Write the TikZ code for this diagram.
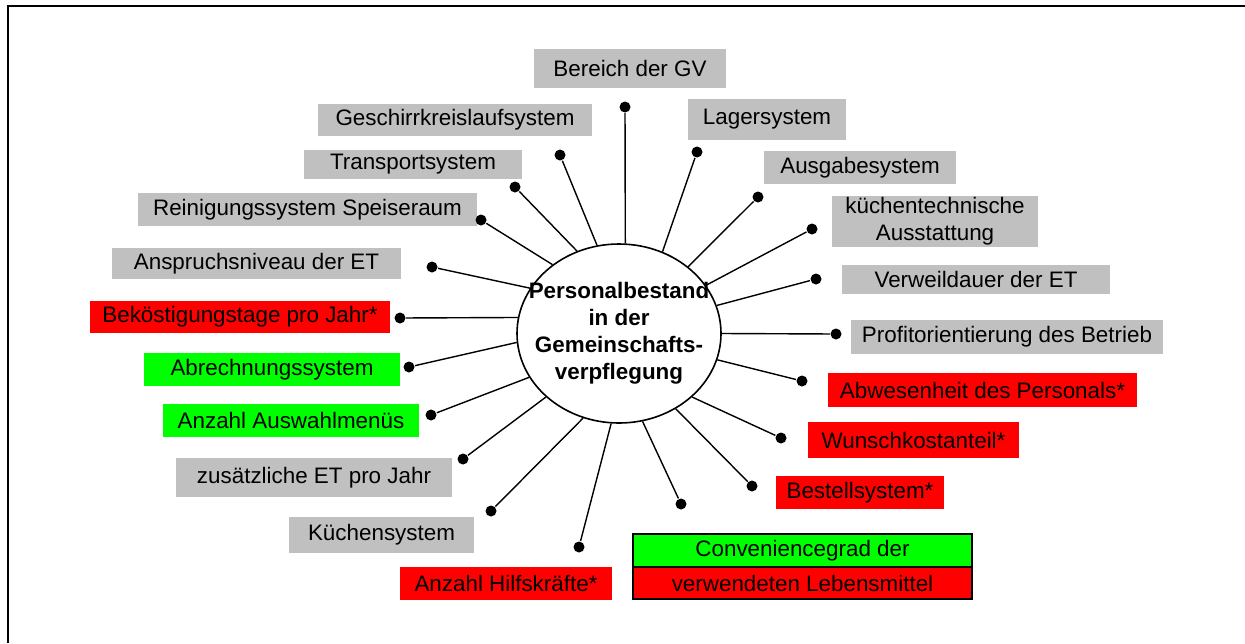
\documentclass[tikz,border=0pt]{standalone}
\usepackage{fontspec}
\setmainfont{Liberation Sans}
\usepackage{xcolor}
\usetikzlibrary{shapes.geometric}
\definecolor{grau}{RGB}{192,192,192}
\definecolor{rot}{RGB}{255,0,0}
\definecolor{gruen}{RGB}{0,255,0}
\newcommand{\boxfont}{\fontsize{11.2}{13.5}\selectfont}
\tikzstyle{punkt}=[circle, fill=black, inner sep=0pt, minimum size=5.5pt]
\newcommand{\punkt}{\node[punkt]}
\tikzstyle{feld}=[inner sep=0pt, minimum height=16.5pt, font=\boxfont, align=center]
\tikzstyle{greybox}=[feld, fill=grau]
\tikzstyle{redbox}=[feld, fill=rot]
\tikzstyle{greenbox}=[feld, fill=gruen]

\begin{document}
\begin{tikzpicture}[x=0.5pt, y=-0.5pt, line width=0.7pt]
\useasboundingbox (0,0) rectangle (1245,643);
\draw[line width=1pt] (8,643) -- (8,6) -- (1245,6);

% Mitte
\node[draw, ellipse, line width=0.8pt, inner sep=0pt, minimum width=102pt, minimum height=89.5pt] (c) at (619,333.5) {};
\node[font=\boxfont\bfseries, align=center] (ct) at (c) {Personalbestand\\in der\\Gemeinschafts-\\verpflegung};

% Einflussfaktoren
\node[greybox, minimum width=96pt, minimum height=19.5pt] (bereich) at (630,68.5) {Bereich der GV};
\node[greybox, minimum width=79pt, minimum height=20.5pt] (lager) at (767,119.5) {Lagersystem};
\node[greybox, minimum width=137pt, minimum height=16pt] (geschirr) at (455,120) {Geschirrkreislaufsystem};
\node[greybox, minimum width=109pt, minimum height=14.5pt] (transport) at (413,164.5) {Transportsystem};
\node[greybox, minimum width=96pt] (ausgabe) at (860,167.5) {Ausgabesystem};
\node[greybox, minimum width=169.5pt] (reinigung) at (307.5,209.5) {Reinigungssystem Speiseraum};
\node[greybox, minimum width=103pt, minimum height=25.5pt] (ausstattung) at (935,221.5) {küchentechnische\\Ausstattung};
\node[greybox, minimum width=144.5pt, minimum height=15.5pt] (anspruch) at (256.5,263.5) {Anspruchsniveau der ET};
\node[greybox, minimum width=134pt, minimum height=14.5pt] (verweil) at (976,279.5) {Verweildauer der ET};
\node[redbox, minimum width=150pt, minimum height=16pt] (bekost) at (240,317) {Beköstigungstage pro Jahr*};
\node[greybox, minimum width=156pt, minimum height=17pt] (profit) at (1007,337) {Profitorientierung des Betrieb};
\node[greenbox, minimum width=128pt] (abrechnung) at (272,369.5) {Abrechnungssystem};
\node[redbox, minimum width=154.5pt, minimum height=17pt] (abwesen) at (982.5,390) {Abwesenheit des Personals*};
\node[greenbox, minimum width=128pt] (auswahl) at (291,420.5) {Anzahl Auswahlmenüs};
\node[redbox, minimum width=105.5pt, minimum height=18pt] (wunsch) at (913.5,440) {Wunschkostanteil*};
\node[greybox, minimum width=138pt, minimum height=19.5pt] (zusatz) at (314,477.5) {zusätzliche ET pro Jahr};
\node[redbox, minimum width=84pt] (bestell) at (860,492.5) {Bestellsystem*};
\node[greybox, minimum width=92.5pt, minimum height=18pt] (kuechen) at (381.5,535) {Küchensystem};
\node[redbox, minimum width=106pt] (hilfs) at (506,583.5) {Anzahl Hilfskräfte*};
\node[greenbox, draw, line width=0.6pt, minimum width=169.5pt] (conv) at (802.5,550.5) {Conveniencegrad der};
\node[redbox, draw, line width=0.6pt, minimum width=169.5pt, minimum height=16pt] (lebensm) at (802.5,583) {verwendeten Lebensmittel};

% Punkte und Verbindungen
\foreach \a/\x/\y/\n in {86/625/107/1, 62/697/152/2, 104/560/155/3, 117/515/187/4,
  44/758/197/5, 134/481/220/6, 29/812/229/7, 153/432/267/8, 16/816/279/9,
  171/400/318/10, 0/836/334/11, 185/409/367/12, 345/802/381/13, 206/431/415/14,
  319/781/438/15, 221/463/459/16, 307/752/486/17, 247/491/511/18, 285/681/504/19,
  265/579/547/20}{
	\punkt (p\n) at (\x,\y) {};
	\draw (c.\a) -- (p\n);
	}
\end{tikzpicture}
\end{document}
